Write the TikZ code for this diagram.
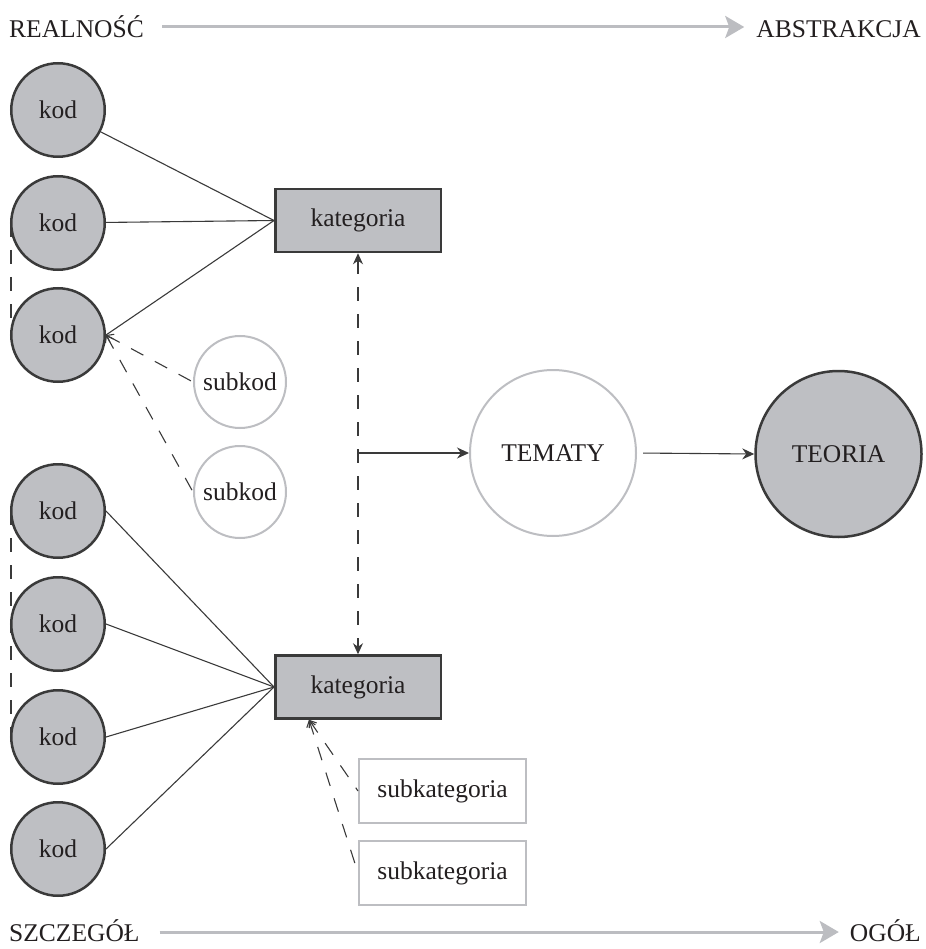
\documentclass[tikz,border=0pt]{standalone}
\usepackage{fontspec}
\setmainfont{Liberation Serif}
\usetikzlibrary{arrows.meta,backgrounds}
\definecolor{boxgray}{HTML}{BEBFC3}
\definecolor{ink}{HTML}{3A3A3A}
\definecolor{pale}{HTML}{BDBEC2}
\definecolor{axisgray}{HTML}{BCBDC1}
\definecolor{txt}{HTML}{231F20}

\begin{document}
\begin{tikzpicture}[x=1pt,y=-1pt,
  every node/.style={font=\fontsize{25.5}{30}\selectfont, text=txt},
  kod/.style={circle, draw=ink, line width=2.5pt, fill=boxgray, minimum size=93.5pt, inner sep=0pt},
  subkod/.style={circle, draw=pale, line width=2pt, fill=white, minimum size=92pt, inner sep=0pt},
  kat/.style={rectangle, draw=ink, line width=2.5pt, fill=boxgray, minimum width=165.5pt, minimum height=63pt, inner sep=0pt},
  subkat/.style={rectangle, draw=pale, line width=2pt, fill=white, minimum width=167pt, minimum height=64pt, inner sep=0pt},
  bigcircle/.style={circle, minimum size=166pt, inner sep=0pt},
  link/.style={draw=ink, line width=1.1pt},
  dlink/.style={link, dash pattern=on 14pt off 13pt},
  barb/.style={{Straight Barb[length=6pt,width=9pt]}-},
  axisarrow/.style={draw=axisgray, line width=3pt, -{Stealth[length=19pt,width=22pt,inset=4pt]}},
  axislabel/.style={inner sep=0pt}
]
\useasboundingbox (0,0) rectangle (925,949);

% axis labels
\node[axislabel, anchor=base west] (real) at (9,38) {REALNOŚĆ};
\node[axislabel, anchor=base east] (abs) at (921,38) {ABSTRAKCJA};
\node[axislabel, anchor=base west] (szcz) at (9,941) {SZCZEGÓŁ};
\node[axislabel, anchor=base east] (ogol) at (921,941) {OGÓŁ};

% codes
\node[kod] (k1) at (58,110) {kod};
\node[kod] (k2) at (58,223) {kod};
\node[kod] (k3) at (58,335) {kod};
\node[kod] (k4) at (58,511) {kod};
\node[kod] (k5) at (58,624) {kod};
\node[kod] (k6) at (58,737) {kod};
\node[kod] (k7) at (58,849) {kod};

% subcodes
\node[subkod] (s1) at (240,382) {subkod};
\node[subkod] (s2) at (240,492) {subkod};

% categories
\node[kat] (c1) at (358,220.5) {kategoria};
\node[kat] (c2) at (358,687) {kategoria};
\node[subkat] (sc1) at (442.5,791) {subkategoria};
\node[subkat] (sc2) at (442.5,873) {subkategoria};

% themes and theory
\node[bigcircle, draw=pale, line width=2pt, fill=white] (tem) at (553,453) {TEMATY};
\node[bigcircle, draw=ink, line width=2.5pt, fill=boxgray] (teo) at (838.5,454) {TEORIA};

% axis arrows
\draw[axisarrow, shorten <=18pt, shorten >=12pt] ([yshift=11pt]real.base east) -- ([yshift=11pt]abs.base west);
\draw[axisarrow, shorten <=20pt, shorten >=11pt] ([yshift=9pt]szcz.base east) -- ([yshift=9pt]ogol.base west);

% grouping marks behind the codes
\begin{scope}[on background layer]
  \draw[dlink] ([xshift=1pt]k2.west) -- ([xshift=1pt]k3.west);
  \draw[dlink] ([xshift=1pt]k4.west) -- ([xshift=1pt]k6.west);
\end{scope}

% codes to categories
\draw[link] (k1) -- (c1.west);
\draw[link] (k2) -- (c1.west);
\draw[link] (k3.east) -- (c1.west);
\draw[link] (k4.east) -- (c2.west);
\draw[link] (k5.east) -- (c2.west);
\draw[link] (k6.east) -- (c2.west);
\draw[link] (k7.east) -- (c2.west);

% subcodes and subcategories
\draw[dlink, barb] (k3.east) -- (s1.west);
\draw[dlink, barb] (k3.east) -- (s2.west);
\coordinate (cfoot) at ([xshift=35pt]c2.south west);
\draw[dlink, barb] (cfoot) -- (sc1.west);
\draw[dlink, barb] (cfoot) -- (sc2.west);

% between categories, on to themes and theory
\draw[dlink, {Stealth[length=11pt,width=10pt]}-{Stealth[length=11pt,width=10pt]}] (c1.south) -- (c2.north);
\coordinate (hub) at (c1.south |- tem.west);
\draw[link, -{Stealth[length=12pt,width=11pt]}] (hub) -- (tem.west);
\draw[link, -{Stealth[length=12pt,width=11pt]}, shorten <=6pt] (tem.east) -- (teo.west);
\end{tikzpicture}
\end{document}
